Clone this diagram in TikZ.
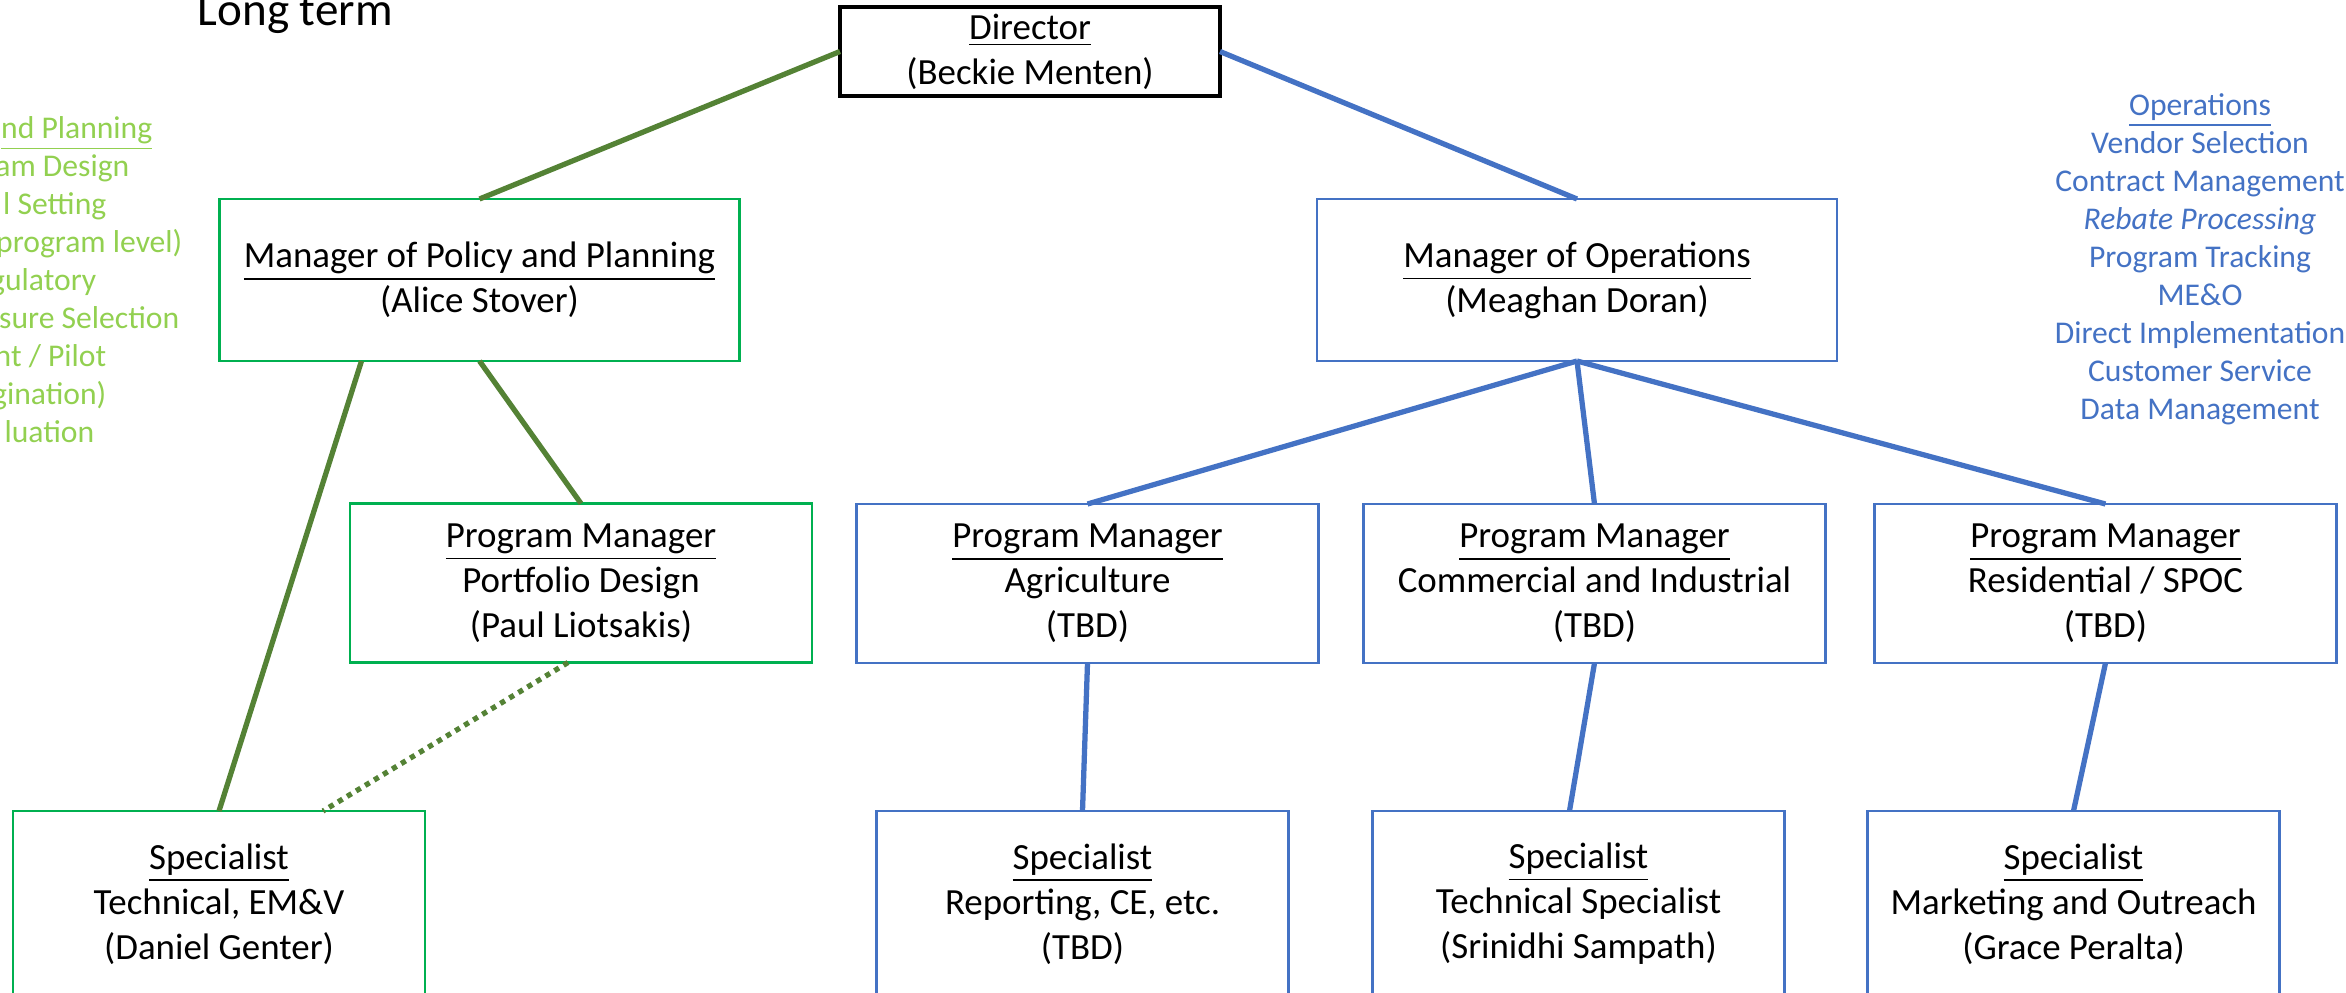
\documentclass[tikz,border=0pt]{standalone}
\usepackage{fontspec}
\setmainfont{Carlito}
\usetikzlibrary{positioning}
\definecolor{cLine}{HTML}{548235}
\definecolor{cGrn}{HTML}{00B050}
\definecolor{cBlu}{HTML}{4472C4}
\definecolor{cLeaf}{HTML}{92D050}
\tikzset{
  box/.style={draw, align=center, inner sep=0pt, outer sep=0pt,
              font=\fontsize{10.5}{12.8}\selectfont},
  dirb/.style={box, draw=black, line width=0.9pt, minimum width=3.8cm, minimum height=0.89cm},
  grnb/.style={box, draw=cGrn, line width=0.6pt},
  blub/.style={box, draw=cBlu, line width=0.6pt},
  mgr/.style={minimum width=5.2cm, minimum height=1.62cm},
  pm/.style={minimum width=4.62cm, minimum height=1.59cm},
  spec/.style={minimum width=4.12cm, minimum height=1.86cm},
  lg/.style={cLine, line width=1.5pt},
  lb/.style={cBlu, line width=1.5pt},
  ld/.style={cLine, line width=1.5pt, dash pattern=on 1.5pt off 1.5pt},
  plist/.style={text=cLeaf, inner sep=0pt, anchor=base east, font=\fontsize{9}{10.8}\selectfont},
  olist/.style={text=cBlu, inner sep=0pt, anchor=base, font=\fontsize{9}{10.8}\selectfont},
}

\begin{document}
\begin{tikzpicture}
  \useasboundingbox (0,0) rectangle (23.46,-9.93);
  \node[anchor=base west, inner sep=0pt, font=\fontsize{13.4}{16}\selectfont] (lt) at (1.97,-0.25) {Long term};

  \node[dirb] (dir) at (10.30,-0.515) {\underline{Director}\\(Beckie Menten)};
  \node[grnb, mgr] (pol) at (4.795,-2.80) {\underline{Manager of Policy and Planning}\\(Alice Stover)};
  \node[blub, mgr] (ops) at (15.77,-2.80) {\underline{Manager of Operations}\\(Meaghan Doran)};

  \node[grnb, pm] (pmp) at (5.81,-5.83) {\underline{Program Manager}\\Portfolio Design\\(Paul Liotsakis)};
  \node[blub, pm] (pma) at (10.875,-5.835) {\underline{Program Manager}\\Agriculture\\(TBD)};
  \node[blub, pm, right=0.45 of pma] (pmc) {\underline{Program Manager}\\Commercial and Industrial\\(TBD)};
  \node[blub, pm, right=0.49 of pmc] (pmr) {\underline{Program Manager}\\Residential / SPOC\\(TBD)};

  \node[grnb, spec] (spt) at (2.19,-9.04) {\underline{Specialist}\\Technical, EM\&V\\(Daniel Genter)};
  \node[blub, spec, below=1.48 of pma, xshift=-0.05cm] (spr) {\underline{Specialist}\\Reporting, CE, etc.\\(TBD)};
  \node[blub, spec, below=1.48 of pmc, xshift=-0.16cm] (sps) {\underline{Specialist}\\Technical Specialist\\(Srinidhi Sampath)};
  \node[blub, spec, below=1.48 of pmr, xshift=-0.32cm] (spm) {\underline{Specialist}\\Marketing and Outreach\\(Grace Peralta)};

  % reporting lines
  \draw[lg] (dir.west) -- (pol.north);
  \draw[lb] (dir.east) -- (ops.north);
  \draw[lg] ([xshift=-1.18cm]pol.south) -- (spt.north);
  \draw[lg] (pol.south) -- (pmp.north);
  \draw[ld] ([xshift=-0.13cm]pmp.south) -- ([xshift=1.04cm]spt.north);
  \foreach \n in {pma,pmc,pmr} \draw[lb] (ops.south) -- (\n.north);
  \draw[lb] (pma.south) -- (spr.north);
  \draw[lb] (pmc.south) -- ([xshift=-0.09cm]sps.north);
  \draw[lb] (pmr.south) -- (spm.north);

  % side lists
  \foreach \t/\x [count=\i] in {{\underline{nd Planning}}/1.53, {am Design}/1.30, {l Setting}/1.07,
      {program level)}/1.83, {gulatory}/0.97, {sure Selection}/1.80, {nt / Pilot}/1.07,
      {gination)}/1.07, {luation}/0.95}
    \node[plist] (p\i) at (\x,{-1.38-0.38*(\i-1)}) {\t};
  \foreach \t [count=\i] in {{\underline{Operations}}, {Vendor Selection}, {Contract Management},
      {\textit{Rebate Processing}}, {Program Tracking}, {ME\&O}, {Direct Implementation},
      {Customer Service}, {Data Management}}
    \node[olist] (o\i) at (22.00,{-1.15-0.38*(\i-1)}) {\t};
\end{tikzpicture}
\end{document}
